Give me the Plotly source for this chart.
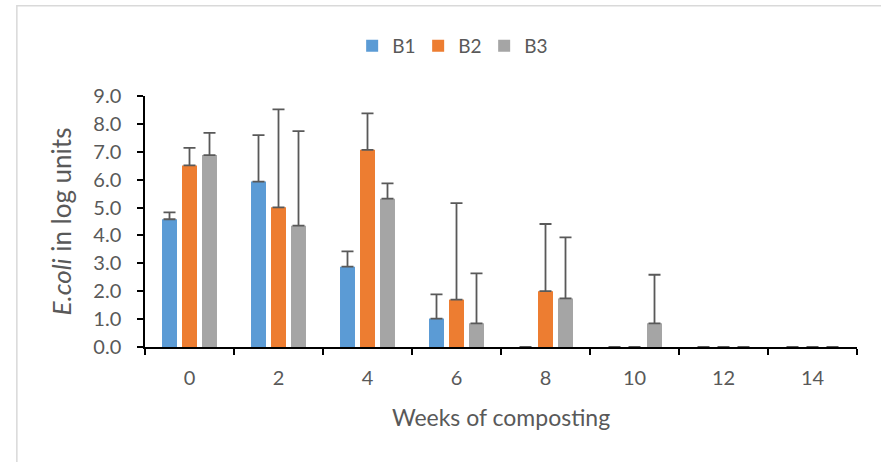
import plotly.graph_objects as go

weeks = ["0", "2", "4", "6", "8", "10", "12", "14"]
b1 = [4.58, 5.93, 2.88, 1.02, 0, 0, 0, 0]
b2 = [6.51, 5.01, 7.07, 1.70, 2.00, 0, 0, 0]
b3 = [6.88, 4.35, 5.32, 0.85, 1.74, 0.85, 0, 0]
b1_err = [0.25, 1.67, 0.55, 0.87, None, None, None, None]
b2_err = [0.63, 3.51, 1.31, 3.46, 2.41, None, None, None]
b3_err = [0.80, 3.39, 0.55, 1.79, 2.19, 1.74, None, None]

series = [("B1", b1, b1_err, "#5B9BD5"),
          ("B2", b2, b2_err, "#ED7D31"),
          ("B3", b3, b3_err, "#A5A5A5")]

FONT = "Lato"
GREY = "#595959"

fig = go.Figure()
for name, vals, err, col in series:
    fig.add_trace(go.Bar(
        x=weeks, y=vals, name=name,
        marker=dict(color=col, line=dict(width=0)),
        error_y=dict(type="data", symmetric=False, array=err,
                     arrayminus=[0] * len(err), color=GREY,
                     thickness=1.8, width=6),
    ))

fig.update_layout(
    width=881, height=462,
    margin=dict(l=145, r=24, t=96, b=115),
    paper_bgcolor="white", plot_bgcolor="white",
    barmode="group", bargap=0.326, bargroupgap=0.25,
    font=dict(family=FONT, color=GREY, size=20),
    legend=dict(orientation="h", x=0.43, xanchor="center",
                y=1.2, yanchor="middle",
                font=dict(family=FONT, size=19, color=GREY),
                itemwidth=30, entrywidth=21, entrywidthmode="pixels",
                traceorder="normal"),
    showlegend=True,
)

fig.update_xaxes(
    type="category", showline=True, linecolor="black", linewidth=1.5,
    ticks="outside", tickson="boundaries", ticklen=6, tickcolor="black",
    tickwidth=1.5, ticklabelstandoff=12,
    tickfont=dict(family=FONT, size=20, color=GREY),
    title=dict(text="Weeks of composting",
               font=dict(family=FONT, size=23, color=GREY), standoff=22),
    showgrid=False,
)
fig.update_yaxes(
    range=[0, 9], dtick=1, tickformat=".1f",
    showline=True, linecolor="black", linewidth=1.5,
    ticks="outside", ticklen=6, tickcolor="black", tickwidth=1.5,
    ticklabelstandoff=12,
    tickfont=dict(family=FONT, size=20, color=GREY),
    title=dict(text="<i>E.coli</i> in log units",
               font=dict(family=FONT, size=26, color=GREY), standoff=14),
    showgrid=False, zeroline=False,
)

fig.add_shape(type="rect", xref="paper", yref="paper",
              x0=-0.18, x1=1.3, y0=-1.0, y1=1.36,
              line=dict(color="#D9D9D9", width=1.5), layer="below")

fig.write_html("out.html")
